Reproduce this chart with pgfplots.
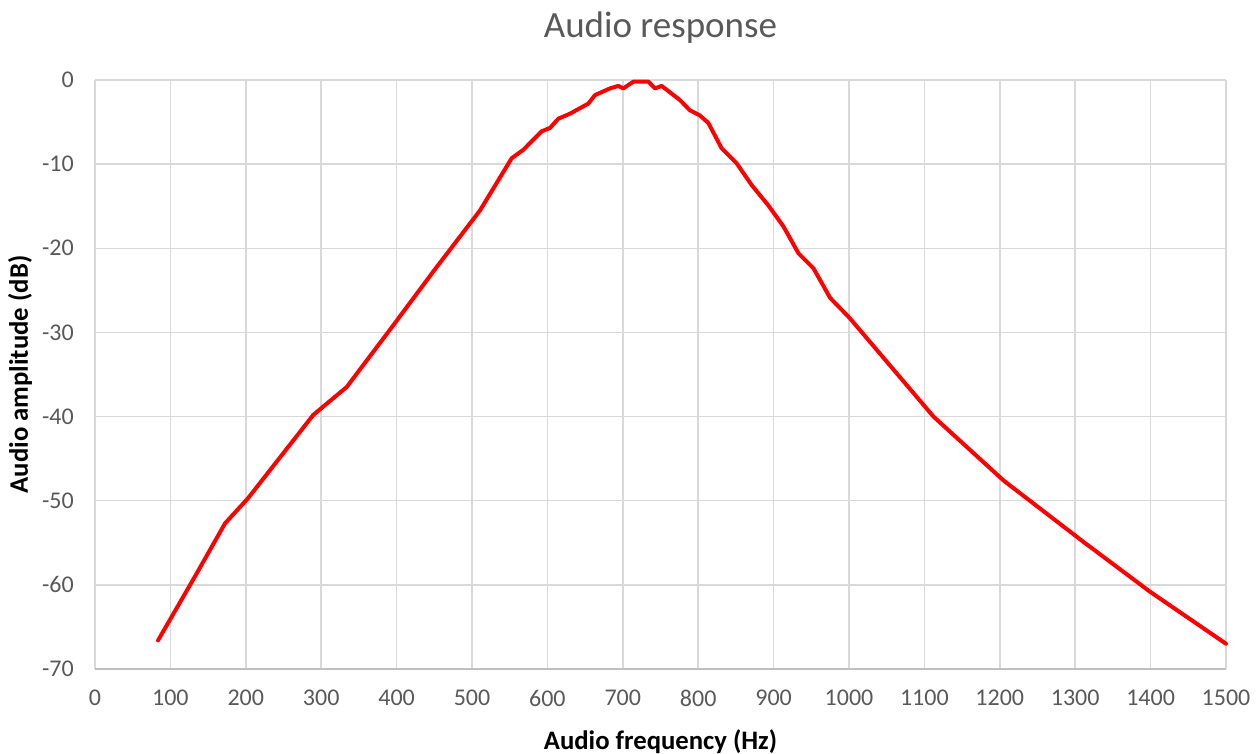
\documentclass[border=0pt]{standalone}
\usepackage{pgfplots}
\pgfplotsset{compat=1.18}
\usepackage{fontspec}
\setmainfont{Carlito}
\definecolor{gridc}{HTML}{D9D9D9}
\definecolor{axc}{HTML}{BFBFBF}
\definecolor{txt}{HTML}{595959}
\begin{document}
\begin{tikzpicture}
\begin{axis}[
  scale only axis,
  width=1131pt, height=589pt,
  xmin=0, xmax=1500, ymin=-70, ymax=0,
  xtick={0,100,...,1500},
  ytick={-70,-60,...,0},
  grid=major,
  major grid style={gridc, line width=1.5pt},
  axis line style={draw=none},
  major tick length=0pt,
  /pgf/number format/assume math mode=true,
  /pgf/number format/set thousands separator={},
  tick label style={font=\fontsize{24}{28}\selectfont, text=txt, inner sep=0pt},
  xticklabel style={anchor=center, yshift=-29pt},
  yticklabel style={anchor=east, xshift=-21pt},
  xlabel={Audio frequency (Hz)},
  ylabel={Audio amplitude (dB)},
  label style={font=\fontsize{26.7}{30}\selectfont\bfseries, inner sep=0pt},
  xlabel style={at={(axis description cs:0.5,0)}, anchor=center, yshift=-73pt},
  ylabel style={at={(axis description cs:0,0.5)}, anchor=center, yshift=75pt},
  title={Audio response},
  title style={font=\fontsize{37}{42}\selectfont, text=txt, at={(axis description cs:0.5,1)}, anchor=center, yshift=46pt, inner sep=0pt},
  clip=false,
]
\draw[axc, line width=1.5pt] (axis cs:0,-70) -- (axis cs:1500,-70);
\addplot[red, line width=4pt, line join=round, line cap=round] coordinates {
(83.6,-66.6) (132.6,-59.0) (172.4,-52.7) (203,-49.7) (289.5,-39.8)
(333.7,-36.5) (391,-29.7) (450,-22.6) (510.6,-15.5) (552.6,-9.3)
(568,-8.3) (592.3,-6.1) (603.4,-5.7) (614.5,-4.6) (630,-4.0)
(654.3,-2.8) (663,-1.8) (683,-1.0) (694,-0.7) (700.6,-1.0)
(714,-0.2) (734,-0.2) (742.7,-1.0) (751.5,-0.7) (776,-2.4)
(789,-3.6) (802,-4.2) (813.4,-5.1) (831,-8.1) (851,-9.9)
(871,-12.5) (893,-14.9) (913,-17.4) (933,-20.6) (953,-22.4)
(975,-25.9) (1001,-28.3) (1112,-40.0) (1205,-47.6) (1311,-54.9)
(1399,-60.8) (1500,-67.0)
};
\end{axis}
\pgfresetboundingbox
\path (current axis.south west) ++(-95pt,-84pt) rectangle ++(1256pt,753pt);
\end{tikzpicture}
\end{document}
